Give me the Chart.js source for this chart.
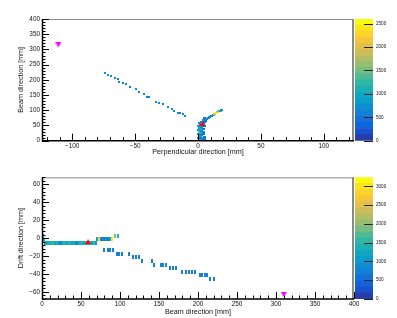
<!DOCTYPE html>
<html>
<head>
<meta charset="utf-8">
<script src="https://cdn.jsdelivr.net/npm/chart.js@4.4.1/dist/chart.umd.min.js"></script>
<style>
    body { margin: 0; background: #fff; }
    #wrap { position: relative; width: 397px; height: 318px; overflow: hidden; }
    canvas { position: absolute; }
</style>
</head>
<body>
<div id="wrap">
    <canvas id="topPlot" width="397" height="160" style="left:0;top:0"></canvas>
    <canvas id="topScale" width="42" height="160" style="left:355px;top:0"></canvas>
    <canvas id="botPlot" width="397" height="158" style="left:0;top:160px"></canvas>
    <canvas id="botScale" width="42" height="158" style="left:355px;top:160px"></canvas>
</div>
<script>
// ---- top view: perpendicular vs beam direction ----
const xzTrackX = [-73.6, -71.7, -69, -65.9, -63.3, -62.5, -59.8, -57.1, -54, -49.2, -46.6, -43.2, -40.8, -38.7, -33.3, -30.7, -28.1, -24.1, -21, -18.8, -16.2, -14, -12.2, -10.3];
const xzTrackY = [222, 216, 213, 207, 202, 194, 189, 185, 178, 169, 160, 154, 145, 143, 128, 123, 120, 112, 103, 99, 92, 90, 87, 81];
const xzTrackV = [650, 650, 650, 650, 600, 650, 650, 650, 450, 650, 650, 650, 450, 650, 650, 650, 600, 650, 650, 650, 650, 600, 650, 650];

const xzClusterX = [1, 3, 5, 2, 4, 0, 2, 5, 1, 3, 4, 0, 2, 4, 1, 3, 0, 2, 4, 1, 3, 5, 0, 2, 4, 1, 5, 3, 6, 4, 7, 5, 8, 9.5, 11, 12, 13, 14, 15.5, 16.5, 18, 19];
const xzClusterY = [2, 2, 4, 6, 8, 10, 12, 13, 16, 18, 21, 23, 26, 28, 31, 33, 36, 38, 40, 43, 45, 47, 49, 52, 54, 57, 60, 63, 66, 68, 71, 73, 76, 79, 82, 85, 88, 91, 93, 96, 99, 101];
const xzClusterV = [500, 700, 450, 600, 900, 500, 700, 450, 1000, 600, 500, 800, 1100, 600, 1300, 700, 900, 1200, 500, 1000, 700, 500, 800, 600, 900, 700, 500, 600, 500, 700, 600, 500, 550, 700, 600, 1000, 1900, 2400, 2200, 1500, 1000, 800];

const xzVertex = [3.5, 56];
const xzBeam = [-111, 315];
const xzMax = 2600;
const xzXTicks = [-100, -50, 0, 50, 100];
const xzYTicks = [0, 50, 100, 150, 200, 250, 300, 350, 400];
const xzScaleTicks = [0, 500, 1000, 1500, 2000, 2500];

// ---- bottom view: beam vs drift direction ----
const zyBandX = [1, 2, 4, 6.5, 9, 11.5, 14, 16.5, 19, 21.5, 24, 26.5, 29, 31.5, 34, 36.5, 39, 41.5, 44, 46.5, 49, 51.5, 54, 56.5, 59, 61.5, 64, 66.5, 69, 70, 72.5, 75, 77.5, 80, 82.5, 85, 87.5, 90, 94, 98];
const zyBandY = [2, -2, -5.5, -5.5, -5.5, -5.5, -5.5, -5.5, -5.5, -5.5, -5.5, -5.5, -5.5, -5.5, -5.5, -5.5, -5.5, -5.5, -5.5, -5.5, -5.5, -5.5, -5.5, -5.5, -5.5, -5.5, -5.5, -5.5, -5.5, -1.5, -1.5, -1.5, -1.5, -1.5, -1.5, -1.5, -1.5, -1.5, 2.5, 2.5];
const zyBandV = [1200, 1400, 1300, 1200, 1400, 1300, 1500, 1200, 1300, 1100, 700, 1300, 1400, 1200, 1500, 1300, 1200, 1400, 700, 1100, 1300, 1500, 1200, 1400, 1600, 1300, 1200, 1500, 1100, 1200, 2900, 900, 800, 700, 900, 800, 1000, 3000, 1900, 1300];

const zyTrackX = [80, 84, 87, 91, 96, 99, 102.5, 111, 117, 120.5, 124, 128, 141, 143.5, 152, 155.5, 159, 164, 168, 172, 180, 184, 188, 192, 196, 202, 205, 209, 212, 216, 220];
const zyTrackY = [-13.5, -13.5, -13.5, -13.5, -17.5, -17.5, -17.5, -17.5, -21.5, -21.5, -21.5, -25.5, -25.5, -29.5, -29.5, -29.5, -29.5, -33.5, -33.5, -33.5, -37.5, -37.5, -37.5, -37.5, -37.5, -41.5, -41.5, -41.5, -41.5, -45.5, -45.5];
const zyTrackV = [700, 650, 700, 700, 650, 700, 700, 650, 700, 700, 650, 700, 650, 700, 650, 700, 700, 700, 650, 700, 650, 700, 700, 650, 700, 700, 650, 700, 700, 700, 650];

const zyVertex = [59, -4];
const zyBeam = [310, -63];
const zyMax = 3240;
const zyXTicks = [0, 50, 100, 150, 200, 250, 300, 350, 400];
const zyYTicks = [-60, -40, -20, 0, 20, 40, 60];
const zyScaleTicks = [0, 500, 1000, 1500, 2000, 2500, 3000];

// ROOT kBird palette
const BIRD = [
    [0.000, 0.2082, 0.1664, 0.5293],
    [0.125, 0.0592, 0.3599, 0.8684],
    [0.250, 0.0780, 0.5041, 0.8385],
    [0.375, 0.0232, 0.6419, 0.7914],
    [0.500, 0.1802, 0.7178, 0.6425],
    [0.625, 0.5301, 0.7492, 0.4662],
    [0.750, 0.8186, 0.7328, 0.3499],
    [0.875, 0.9956, 0.7862, 0.1968],
    [1.000, 0.9764, 0.9832, 0.0539]
];
const LEVELS = 20;

function bird(f) {
    let k = 1;
    while (k < BIRD.length - 1 && f > BIRD[k][0]) k++;
    const a = BIRD[k - 1], b = BIRD[k], t = (f - a[0]) / (b[0] - a[0]);
    const c = [1, 2, 3].map(j => Math.round(255 * (a[j] + (b[j] - a[j]) * t)));
    return `rgb(${c.join(',')})`;
}

function levelColor(v, max) {
    const i = Math.min(LEVELS - 1, Math.floor(v / max * LEVELS));
    return bird((i + 0.99) / LEVELS);
}

// small canvases used as point styles (bins and triangle markers)
const imgCache = {};
function binImage(color, w, h) {
    const key = color + w + 'x' + h;
    if (!imgCache[key]) {
        const c = document.createElement('canvas');
        c.width = w;
        c.height = h;
        const g = c.getContext('2d');
        g.fillStyle = color;
        g.fillRect(0, 0, w, h);
        imgCache[key] = c;
    }
    return imgCache[key];
}

function triangleImage(color, down) {
    const c = document.createElement('canvas');
    c.width = 6;
    c.height = 5;
    const g = c.getContext('2d');
    g.fillStyle = color;
    g.beginPath();
    if (down) {
        g.moveTo(0, 0); g.lineTo(6, 0); g.lineTo(3, 5);
    } else {
        g.moveTo(0, 5); g.lineTo(6, 5); g.lineTo(3, 0);
    }
    g.closePath();
    g.fill();
    return c;
}

Chart.defaults.font.family = "'Liberation Sans', Arial, sans-serif";
const INK = '#111';
const minus = v => String(v).replace('-', '\u2212');

// frame + inward ticks like ROOT
const rootFrame = {
    id: 'rootFrame',
    afterDatasetsDraw(chart, args, o) {
        const { ctx, chartArea: a, scales: { x, y } } = chart;
        ctx.save();
        ctx.strokeStyle = '#8a8a8a';
        ctx.lineWidth = 1;
        ctx.beginPath();
        ctx.moveTo(a.left, a.top + 0.5);
        ctx.lineTo(a.right, a.top + 0.5);
        ctx.stroke();
        ctx.lineWidth = 2;
        ctx.beginPath();
        ctx.moveTo(a.right - 1, a.top);
        ctx.lineTo(a.right - 1, a.bottom);
        ctx.stroke();

        ctx.strokeStyle = '#000';
        ctx.lineWidth = 1;
        ctx.beginPath();
        for (let k = Math.ceil(x.min / o.xMinor); k * o.xMinor <= x.max; k++) {
            const v = k * o.xMinor;
            const px = Math.round(x.getPixelForValue(v)) + 0.5;
            const len = v % o.xMajor === 0 ? 7 : 3.5;
            ctx.moveTo(px, a.bottom);
            ctx.lineTo(px, a.bottom - len);
        }
        for (let k = Math.ceil(y.min / o.yMinor); k * o.yMinor <= y.max; k++) {
            const v = k * o.yMinor;
            const py = Math.round(y.getPixelForValue(v)) + 0.5;
            const len = v % o.yMajor === 0 ? 7 : 3.5;
            ctx.moveTo(a.left, py);
            ctx.lineTo(a.left + len, py);
        }
        ctx.stroke();
        ctx.lineWidth = 1.5;
        ctx.beginPath();
        ctx.moveTo(a.left + 0.5, a.top);
        ctx.lineTo(a.left + 0.5, a.bottom);
        ctx.lineTo(a.right, a.bottom);
        ctx.stroke();
        ctx.restore();
    }
};

const paletteTicks = {
    id: 'paletteTicks',
    afterDatasetsDraw(chart) {
        const { ctx, chartArea: a, scales: { y } } = chart;
        ctx.save();
        ctx.strokeStyle = '#222';
        ctx.lineWidth = 1;
        ctx.beginPath();
        y.ticks.forEach(t => {
            const py = Math.round(y.getPixelForValue(t.value)) + 0.5;
            ctx.moveTo(a.right - 9, py);
            ctx.lineTo(a.right, py);
        });
        ctx.stroke();
        ctx.restore();
    }
};

function binSet(xs, ys, vs, max, w, h) {
    return {
        data: xs.map((x, i) => ({ x: x, y: ys[i], v: vs[i] })),
        pointStyle: c => binImage(levelColor(c.raw.v, max), w, h),
        pointRadius: 0.2,
        borderWidth: 0
    };
}

function markerSet(p, color, down) {
    return {
        data: [{ x: p[0], y: p[1] }],
        pointStyle: triangleImage(color, down),
        pointRadius: 0.2,
        borderWidth: 0
    };
}

function noPad(s) {
    s.paddingLeft = 0;
    s.paddingRight = 0;
    s.paddingTop = 0;
    s.paddingBottom = 0;
}

function eventChart(id, d) {
    return new Chart(document.getElementById(id), {
        type: 'scatter',
        data: { datasets: d.datasets },
        plugins: [rootFrame],
        options: {
            responsive: false,
            animation: false,
            events: [],
            // canvas is full width so the last tick label is not cut; frame ends at x = 354
            layout: { autoPadding: false, padding: { top: d.padTop, right: 43, left: 0, bottom: 0 } },
            plugins: {
                legend: { display: false },
                tooltip: { enabled: false },
                rootFrame: d.ticks
            },
            scales: {
                x: {
                    min: d.xMin, max: d.xMax,
                    afterBuildTicks: s => { s.ticks = d.xTicks.map(v => ({ value: v })); },
                    afterFit: s => { s.height = d.xAxisH; noPad(s); },
                    grid: { display: false, drawTicks: false },
                    border: { display: false },
                    ticks: { font: { size: 6.4 }, color: INK, padding: 1.5, maxRotation: 0, autoSkip: false, callback: minus },
                    title: { display: true, text: d.xTitle, font: { size: 7.2 }, color: INK, padding: { top: 0, bottom: d.xTitlePad } }
                },
                y: {
                    min: d.yMin, max: d.yMax,
                    afterBuildTicks: s => { s.ticks = d.yTicks.map(v => ({ value: v })); },
                    afterFit: s => { s.width = 42; noPad(s); },
                    grid: { display: false, drawTicks: false },
                    border: { display: false },
                    ticks: { font: { size: 6.4 }, color: INK, padding: 2, autoSkip: false, callback: minus },
                    title: { display: true, text: d.yTitle, font: { size: 7.2 }, color: INK, padding: { top: 16.4, bottom: 0 } }
                }
            }
        }
    });
}

function paletteChart(id, max, ticks, padTop, padBottom) {
    const bands = [];
    for (let i = 0; i < LEVELS; i++) {
        bands.push({
            data: [max / LEVELS],
            backgroundColor: bird((i + 0.99) / LEVELS),
            borderWidth: 0,
            barPercentage: 1,
            categoryPercentage: 1
        });
    }
    return new Chart(document.getElementById(id), {
        type: 'bar',
        data: { labels: [''], datasets: bands },
        plugins: [paletteTicks],
        options: {
            responsive: false,
            animation: false,
            events: [],
            layout: { autoPadding: false, padding: { top: padTop, bottom: padBottom, left: 0, right: 0 } },
            plugins: { legend: { display: false }, tooltip: { enabled: false } },
            scales: {
                x: { display: false, stacked: true },
                y: {
                    stacked: true, position: 'right', min: 0, max: max,
                    afterBuildTicks: s => { s.ticks = ticks.map(v => ({ value: v })); },
                    afterFit: s => { s.width = 24; noPad(s); },
                    grid: { display: false, drawTicks: false },
                    border: { display: false },
                    ticks: { font: { size: 4.6 }, color: INK, padding: 3, autoSkip: false, callback: v => String(v) }
                }
            }
        }
    });
}

eventChart('topPlot', {
    datasets: [
        markerSet(xzVertex, '#ff0000', false),
        markerSet(xzBeam, '#ff00ff', true),
        binSet(xzTrackX, xzTrackY, xzTrackV, xzMax, 2, 2),
        binSet(xzClusterX, xzClusterY, xzClusterV, xzMax, 3, 2)
    ],
    xMin: -124, xMax: 124, yMin: 0, yMax: 400,
    xTicks: xzXTicks, yTicks: xzYTicks,
    padTop: 19, xAxisH: 19.3, xTitlePad: 4,
    xTitle: 'Perpendicular direction [mm]', yTitle: 'Beam direction [mm]',
    ticks: { xMinor: 10, xMajor: 50, yMinor: 10, yMajor: 50 }
});
paletteChart('topScale', xzMax, xzScaleTicks, 19, 19.3);

eventChart('botPlot', {
    datasets: [
        markerSet(zyVertex, '#ff0000', false),
        markerSet(zyBeam, '#ff00ff', true),
        binSet(zyBandX, zyBandY, zyBandV, zyMax, 2, 4),
        binSet(zyTrackX, zyTrackY, zyTrackV, zyMax, 2, 4)
    ],
    xMin: 0, xMax: 400, yMin: -68, yMax: 68,
    xTicks: zyXTicks, yTicks: zyYTicks,
    padTop: 17.3, xAxisH: 19, xTitlePad: 2,
    xTitle: 'Beam direction [mm]', yTitle: 'Drift direction [mm]',
    ticks: { xMinor: 10, xMajor: 50, yMinor: 4, yMajor: 20 }
});
paletteChart('botScale', zyMax, zyScaleTicks, 17.3, 19);
</script>
</body>
</html>
